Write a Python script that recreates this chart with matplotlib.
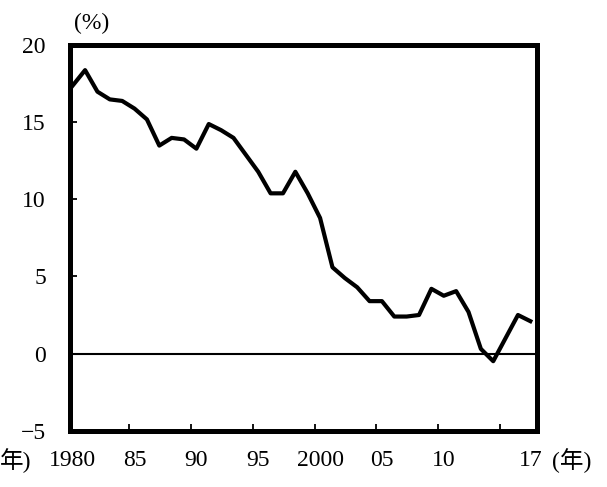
import matplotlib
matplotlib.use("Agg")
import matplotlib.pyplot as plt

# data (%)
years = list(range(1980, 2018))
values = [17.4, 18.4, 17.0, 16.5, 16.4, 15.9, 15.2, 13.5, 14.0, 13.9,
          13.3, 14.9, 14.5, 14.0, 12.9, 11.8, 10.4, 10.4, 11.8, 10.4,
          8.8, 5.6, 4.9, 4.3, 3.4, 3.4, 2.4, 2.4, 2.5, 4.2,
          3.75, 4.05, 2.7, 0.3, -0.5, 1.0, 2.5, 2.1]

label_years = [1980, 1985, 1990, 1995, 2000, 2005, 2010, 2017]
label_text = ["1980", "85", "90", "95", "2000", "05", "10", "17"]
tick_years = [1985, 1990, 1995, 2000, 2005, 2010, 2015]
y_ticks = [-5, 0, 5, 10, 15, 20]

serif = ["Liberation Serif", "Noto Sans CJK JP", "DejaVu Sans"]
plt.rcParams['font.family'] = serif
fs = 17

fig = plt.figure(figsize=(6.07, 4.87), dpi=100)
ax = fig.add_axes([0.1145, 0.116, 0.7702, 0.7906])

ax.plot(years, values, color="black", linewidth=3.0, solid_joinstyle="round")
ax.axhline(0, color="black", linewidth=1.5)

ax.set_xlim(1979.74, 2017.54)
ax.set_ylim(-5, 20)

for s in ax.spines.values():
    s.set_linewidth(3.6)

# ticks sit a bit left of the data years in the original
ax.set_xticks([y - 0.45 for y in tick_years])
ax.set_xticklabels([])
ax.set_xticks(label_years, minor=True)
ax.set_xticklabels(label_text, minor=True, fontsize=fs)
ax.tick_params(axis="x", which="major", direction="in", length=5, width=1.3)
ax.tick_params(axis="x", which="minor", length=0, pad=14)

ax.set_yticks(y_ticks)
ax.set_yticklabels([str(v).replace("-", "\u2212") for v in y_ticks], fontsize=fs)
ax.tick_params(axis="y", direction="in", length=5, width=1.3, pad=17)

fig.text(92 / 607, 1 - 23 / 487, "(%)", fontsize=fs, ha="center", va="center")
fig.text(572 / 607, 1 - 461 / 487, "(年)", fontsize=fs, ha="center", va="center")
fig.text(0.0, 1 - 461 / 487, "年)", fontsize=fs, ha="left", va="center")

fig.savefig("out.png", dpi=100, facecolor="white")
